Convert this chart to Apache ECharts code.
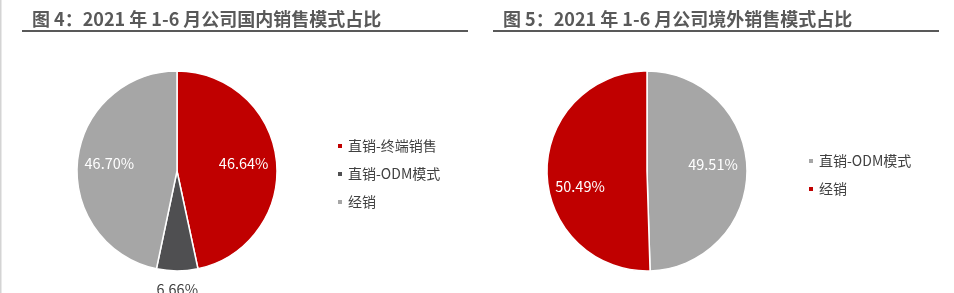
<!DOCTYPE html>
<html>
<head>
<meta charset="utf-8">
<script src="https://cdn.jsdelivr.net/npm/echarts@6/dist/echarts.min.js"></script>
<style>
  html, body { margin: 0; padding: 0; background: #fff; }
  #chart { width: 954px; height: 293px; }
</style>
</head>
<body>
<div id="chart"></div>
<script>
// 图4 国内销售模式
var domesticNames = ['直销-终端销售', '直销-ODM模式', '经销'];
var domesticValues = [46.64, 6.66, 46.70];
// 图5 境外销售模式
var overseasNames = ['直销-ODM模式', '经销'];
var overseasValues = [49.51, 50.49];

var titles = ['图 4：2021 年 1-6 月公司国内销售模式占比', '图 5：2021 年 1-6 月公司境外销售模式占比'];

var RED = '#C00000', DARK = '#4F4F51', GREY = '#A6A6A6';
var FONT = '"Noto Sans CJK SC", "Microsoft YaHei", sans-serif';

// 标签放在扇区中角方向上，半径和微调由下面的配置给出
function labelLayoutFor(values, cx, cy, radii, nudge) {
  var total = values.reduce(function (a, b) { return a + b; }, 0);
  return function (params) {
    var i = params.dataIndex, cum = 0;
    for (var k = 0; k < i; k++) cum += values[k];
    var a = (cum + values[i] / 2) / total * Math.PI * 2;
    return {
      x: cx + radii[i] * Math.sin(a) + nudge[i][0],
      y: cy - radii[i] * Math.cos(a) + nudge[i][1],
      align: 'center',
      verticalAlign: 'middle'
    };
  };
}

function pieData(names, values, colors, labelColors) {
  return names.map(function (n, i) {
    return {
      name: n,
      value: values[i],
      itemStyle: { color: colors[i] },
      label: { color: labelColors[i] }
    };
  });
}

var chart = echarts.init(document.getElementById('chart'));
chart.setOption({
  animation: false,
  title: [
    { text: titles[0], left: 27, top: 5, textStyle: { fontFamily: FONT, fontSize: 18, fontWeight: 'bold', color: '#595959' } },
    { text: titles[1], left: 498, top: 5, textStyle: { fontFamily: FONT, fontSize: 18, fontWeight: 'bold', color: '#595959' } }
  ],
  graphic: [
    { type: 'line', shape: { x1: 0.5, y1: 0, x2: 0.5, y2: 293 }, style: { stroke: '#d4d4d4', lineWidth: 2 } },
    { type: 'line', shape: { x1: 22, y1: 31, x2: 468, y2: 31 }, style: { stroke: '#595959', lineWidth: 2 } },
    { type: 'line', shape: { x1: 493, y1: 31, x2: 939, y2: 31 }, style: { stroke: '#595959', lineWidth: 2 } }
  ],
  legend: [
    {
      data: domesticNames,
      orient: 'vertical', left: 331, top: 134,
      icon: 'rect', itemWidth: 6, itemHeight: 6, itemGap: 14,
      selectedMode: false,
      textStyle: { fontFamily: FONT, fontSize: 14, color: '#404040' }
    },
    {
      data: [
        { name: overseasNames[0], itemStyle: { color: GREY } },
        { name: overseasNames[1], itemStyle: { color: RED } }
      ],
      orient: 'vertical', left: 802, top: 149,
      icon: 'rect', itemWidth: 6, itemHeight: 6, itemGap: 14,
      selectedMode: false,
      textStyle: { fontFamily: FONT, fontSize: 14, color: '#404040' }
    }
  ],
  series: [
    {
      type: 'pie',
      center: [177, 171],
      radius: [0, 100],
      startAngle: 90,
      clockwise: true,
      silent: true,
      itemStyle: { borderColor: '#fff', borderWidth: 1.5 },
      label: {
        show: true, position: 'inside',
        fontFamily: FONT, fontSize: 14.5,
        formatter: function (p) { return p.value.toFixed(2) + '%'; }
      },
      labelLine: { show: false },
      labelLayout: labelLayoutFor(domesticValues, 177, 171, [67, 118, 68], [[0, 0], [0, 0], [0, 0]]),
      data: pieData(domesticNames, domesticValues, [RED, DARK, GREY], ['#fff', '#404040', '#fff'])
    },
    {
      type: 'pie',
      center: [647, 171],
      radius: [0, 100],
      startAngle: 90,
      clockwise: true,
      silent: true,
      itemStyle: { borderColor: '#fff', borderWidth: 1.5 },
      label: {
        show: true, position: 'inside',
        fontFamily: FONT, fontSize: 14.5,
        formatter: function (p) { return p.value.toFixed(2) + '%'; }
      },
      labelLine: { show: false },
      labelLayout: labelLayoutFor(overseasValues, 647, 171, [66, 67], [[0, -5], [0, 14]]),
      data: pieData(overseasNames, overseasValues, [GREY, RED], ['#fff', '#fff'])
    }
  ]
});
</script>
</body>
</html>
